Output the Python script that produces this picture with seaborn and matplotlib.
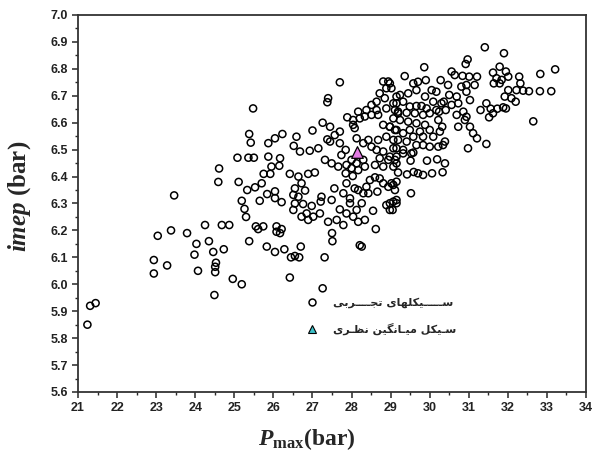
import matplotlib
matplotlib.use("Agg")
import matplotlib.pyplot as plt
import seaborn as sns
from matplotlib.lines import Line2D
from matplotlib.ticker import MultipleLocator

pmax = [21.24, 21.31, 21.45, 22.94, 22.94, 23.28, 23.04, 23.38, 23.46, 23.79,
        24.03, 23.98, 24.07, 24.25, 24.35, 24.46, 24.53, 24.51, 24.51, 24.49,
        24.73, 24.68, 24.87, 24.96, 25.19, 24.59, 24.61, 25.08, 25.36, 25.50,
        25.11, 25.33, 25.19, 25.26, 25.30, 25.38,
        25.53, 25.70, 25.65, 25.84, 26.04, 26.04, 26.21, 25.55, 25.61, 25.74,
        25.83, 26.04, 26.28, 26.45, 26.55, 26.66, 26.70, 26.08, 26.08, 26.21,
        26.17, 26.42, 27.26, 27.31, 27.50, 27.51, 28.21, 28.26, 28.62,
        25.75, 25.92, 26.15,
        26.42, 26.64, 26.89, 27.06, 26.72, 26.55, 26.51, 26.64, 26.81, 26.55,
        26.51, 26.76, 26.98, 26.85, 26.72, 26.89, 27.02, 27.19, 27.23, 27.21,
        27.49, 27.40, 27.62, 27.79, 27.56, 27.79, 27.87, 27.85, 28.03, 28.08,
        27.96, 28.17, 28.30, 28.38, 28.47, 28.60, 28.72, 28.81, 28.94, 29.07,
        29.15, 28.66, 28.89, 29.07, 28.98, 29.15, 28.55, 27.70, 27.87, 28.04,
        28.13, 28.34, 28.17, 27.96, 28.26, 28.43,
        25.48, 27.70, 27.40, 27.38, 25.38, 25.42, 25.87, 26.04, 26.23, 26.59,
        26.52, 26.68, 25.87, 26.17, 26.93, 27.15, 27.00, 27.26, 27.45, 27.70,
        27.57, 27.38, 27.45, 27.70, 27.85, 27.74, 27.32, 27.49, 27.66, 27.87,
        25.95, 27.89, 28.04, 28.08, 28.04, 28.13, 28.30, 28.43, 28.51, 28.68,
        28.17, 28.38, 28.51, 28.64, 28.68, 28.51, 28.34, 28.21, 28.72, 28.85,
        28.64, 28.81, 28.94, 28.89, 29.02, 29.15, 29.07, 28.89, 29.11, 29.19,
        28.81, 28.98, 29.11, 28.89, 29.07, 29.15, 28.64, 28.81, 28.72, 28.94,
        29.15, 28.60, 28.81, 29.07, 28.00, 28.13, 28.30, 28.00, 28.17, 28.34,
        31.41, 31.90, 29.86, 32.83, 33.21, 33.11, 32.82, 32.54, 32.65, 30.97,
        30.92, 30.56, 30.64, 30.84, 31.01, 31.21, 31.62, 31.79, 31.95, 31.71,
        31.84, 31.64, 31.79, 32.01, 32.29, 32.32, 32.22, 32.39, 32.01, 31.92,
        32.09, 32.20, 31.88, 31.73, 31.95, 31.30, 31.45, 31.56, 31.52, 31.62,
        31.03, 30.94, 31.15, 30.81, 30.69, 30.50, 30.28, 30.47, 30.94, 30.56,
        30.73, 30.86, 30.94, 30.69, 30.41, 30.24, 30.73, 31.03, 31.11, 31.21,
        31.45, 30.98, 30.34, 30.39, 30.22, 30.00, 29.83, 29.36, 28.98, 29.58,
        29.70, 29.90, 30.05, 30.17, 29.88, 29.66, 29.45, 29.24, 29.15, 29.32,
        29.49, 29.66, 29.79, 29.92, 30.09, 30.30, 30.17, 30.00, 29.83, 29.62,
        29.41, 29.19, 29.07, 29.24, 29.45, 29.66, 29.88, 30.00, 29.75, 29.49,
        29.32, 29.15, 28.98, 29.58, 29.83, 30.09, 30.26, 29.19, 29.41, 29.66,
        29.07, 29.32, 29.58, 30.32, 30.22, 30.36, 30.90,
        29.93, 30.19, 30.39, 30.33, 30.06, 29.83, 29.70, 29.59, 29.42, 29.19,
        29.51, 29.32, 29.53, 29.11, 29.15, 28.98, 29.52, 29.02, 29.11, 29.15,
        29.05, 28.98]

imep = [5.85, 5.92, 5.93, 6.09, 6.04, 6.07, 6.18, 6.20, 6.33, 6.19,
        6.15, 6.11, 6.05, 6.22, 6.16, 6.12, 6.08, 6.065, 6.045, 5.96,
        6.13, 6.22, 6.22, 6.02, 6.00, 6.38, 6.43, 6.47, 6.47, 6.47,
        6.38, 6.35, 6.31, 6.28, 6.25, 6.16,
        6.36, 6.375, 6.31, 6.335, 6.345, 6.32, 6.305, 6.215, 6.205, 6.215,
        6.14, 6.12, 6.13, 6.10, 6.105, 6.10, 6.14, 6.215, 6.195, 6.205,
        6.19, 6.025, 5.985, 6.10, 6.19, 6.16, 6.145, 6.14, 6.205,
        6.41, 6.41, 6.44,
        6.41, 6.40, 6.41, 6.415, 6.375, 6.356, 6.332, 6.325, 6.348, 6.300,
        6.276, 6.298, 6.291, 6.263, 6.251, 6.239, 6.251, 6.263, 6.325, 6.307,
        6.313, 6.232, 6.239, 6.220, 6.356, 6.338, 6.375, 6.412, 6.402, 6.356,
        6.319, 6.350, 6.338, 6.362, 6.387, 6.397, 6.393, 6.375, 6.362, 6.369,
        6.381, 6.344, 6.294, 6.307, 6.276, 6.301, 6.273, 6.278, 6.263, 6.251,
        6.276, 6.239, 6.232, 6.301, 6.301, 6.338,
        6.653, 6.750, 6.691, 6.676, 6.558, 6.526, 6.524, 6.542, 6.558, 6.548,
        6.514, 6.493, 6.474, 6.468, 6.496, 6.505, 6.571, 6.600, 6.585, 6.567,
        6.554, 6.538, 6.530, 6.524, 6.499, 6.480, 6.462, 6.449, 6.437, 6.443,
        6.437, 6.620, 6.592, 6.580, 6.610, 6.542, 6.524, 6.536, 6.511, 6.536,
        6.641, 6.647, 6.666, 6.647, 6.629, 6.629, 6.623, 6.616, 6.709, 6.691,
        6.678, 6.753, 6.753, 6.728, 6.728, 6.697, 6.672, 6.653, 6.647, 6.635,
        6.592, 6.585, 6.573, 6.548, 6.536, 6.505, 6.499, 6.493, 6.468, 6.462,
        6.474, 6.443, 6.437, 6.437, 6.462, 6.449, 6.462, 6.431, 6.424, 6.437,
        6.880, 6.858, 6.806, 6.781, 6.798, 6.717, 6.717, 6.717, 6.605, 6.835,
        6.818, 6.790, 6.777, 6.774, 6.771, 6.771, 6.786, 6.808, 6.790, 6.765,
        6.759, 6.746, 6.746, 6.771, 6.771, 6.746, 6.721, 6.719, 6.721, 6.697,
        6.691, 6.678, 6.657, 6.652, 6.653, 6.647, 6.672, 6.652, 6.620, 6.635,
        6.684, 6.715, 6.740, 6.734, 6.697, 6.703, 6.758, 6.740, 6.740, 6.666,
        6.672, 6.641, 6.622, 6.629, 6.647, 6.641, 6.585, 6.585, 6.561, 6.542,
        6.521, 6.505, 6.517, 6.530, 6.511, 6.511, 6.517, 6.773, 6.746, 6.746,
        6.752, 6.758, 6.721, 6.715, 6.697, 6.721, 6.709, 6.703, 6.672, 6.678,
        6.660, 6.662, 6.662, 6.653, 6.678, 6.672, 6.647, 6.635, 6.629, 6.635,
        6.637, 6.641, 6.616, 6.610, 6.604, 6.598, 6.592, 6.573, 6.567, 6.573,
        6.561, 6.573, 6.585, 6.548, 6.548, 6.548, 6.567, 6.536, 6.530, 6.517,
        6.505, 6.499, 6.489, 6.585, 6.610, 6.678, 6.610,
        6.459, 6.464, 6.449, 6.416, 6.412, 6.406, 6.412, 6.417, 6.408, 6.415,
        6.459, 6.486, 6.486, 6.462, 6.449, 6.474, 6.338, 6.375, 6.350, 6.313,
        6.276, 6.301]

# averaged (theoretical mean) cycle
mean_pmax = [28.15]
mean_imep = [6.49]

label_exp = "ســـــیکلهای تجــــربی"
label_mean = "سـیکل میـانگین نظـری"

# minimal Persian shaping (presentation forms) because matplotlib does not shape Arabic script
FORMS = {
    "س": ("\uFEB1", "\uFEB2", "\uFEB3", "\uFEB4"),
    "ی": ("\uFEEF", "\uFEF0", "\uFEF3", "\uFEF4"),
    "ک": ("\uFB8E", "\uFB8F", "\uFB90", "\uFB91"),
    "ل": ("\uFEDD", "\uFEDE", "\uFEDF", "\uFEE0"),
    "ه": ("\uFEE9", "\uFEEA", "\uFEEB", "\uFEEC"),
    "ا": ("\uFE8D", "\uFE8E", None, None),
    "ت": ("\uFE95", "\uFE96", "\uFE97", "\uFE98"),
    "ج": ("\uFE9D", "\uFE9E", "\uFE9F", "\uFEA0"),
    "ر": ("\uFEAD", "\uFEAE", None, None),
    "ب": ("\uFE8F", "\uFE90", "\uFE91", "\uFE92"),
    "م": ("\uFEE1", "\uFEE2", "\uFEE3", "\uFEE4"),
    "ن": ("\uFEE5", "\uFEE6", "\uFEE7", "\uFEE8"),
    "گ": ("\uFB92", "\uFB93", "\uFB94", "\uFB95"),
    "ظ": ("\uFEC5", "\uFEC6", "\uFEC7", "\uFEC8"),
    "ـ": ("\u0640", "\u0640", "\u0640", "\u0640"),
}


def shape(text):
    out = []
    for i, ch in enumerate(text):
        if ch not in FORMS:
            out.append(ch)
            continue
        prev = text[i - 1] if i > 0 else ""
        nxt = text[i + 1] if i + 1 < len(text) else ""
        join_prev = prev in FORMS and FORMS[prev][2] is not None
        join_next = FORMS[ch][2] is not None and nxt in FORMS
        if join_prev and join_next:
            out.append(FORMS[ch][3])
        elif join_prev:
            out.append(FORMS[ch][1])
        elif join_next:
            out.append(FORMS[ch][2])
        else:
            out.append(FORMS[ch][0])
    return "".join(out[::-1])


sns.set_style("ticks")
plt.rcParams["font.family"] = ["Liberation Sans", "DejaVu Sans"]
plt.rcParams["mathtext.fontset"] = "custom"
plt.rcParams["mathtext.it"] = "Liberation Serif:italic:bold"
plt.rcParams["mathtext.rm"] = "Liberation Serif:bold"
plt.rcParams["mathtext.bf"] = "Liberation Serif:bold"

fig = plt.figure(figsize=(5.97, 4.61), dpi=100)
ax = fig.add_axes([0.1307, 0.1497, 0.8509, 0.8178])

sns.scatterplot(x=pmax, y=imep, ax=ax, marker="o", s=26,
                facecolor="none", edgecolor="black", linewidth=1.1)
sns.scatterplot(x=mean_pmax, y=mean_imep, ax=ax, marker="^", s=70,
                color="#e47be4", edgecolor="black", linewidth=0.9, zorder=5)

ax.set_xlim(21, 34)
ax.set_ylim(5.6, 7.0)
ax.xaxis.set_major_locator(MultipleLocator(1))
ax.xaxis.set_minor_locator(MultipleLocator(0.5))
ax.yaxis.set_major_locator(MultipleLocator(0.1))
ax.yaxis.set_minor_locator(MultipleLocator(0.05))
ax.tick_params(which="major", direction="out", length=4, width=1.1,
               labelsize=9, labelcolor="#222222", pad=3)
ax.tick_params(which="minor", direction="out", length=2.5, width=1.0)
for lab in ax.get_xticklabels() + ax.get_yticklabels():
    lab.set_fontweight("bold")
for sp in ax.spines.values():
    sp.set_linewidth(1.3)
    sp.set_color("#333333")

ax.set_xlabel(r"$P_{\mathrm{max}}$(bar)", fontsize=17, family="Liberation Serif",
              fontweight="bold")
ax.xaxis.set_label_coords(0.45, -0.09)
ax.set_ylabel(r"$imep$ (bar)", fontsize=18, family="Liberation Serif",
              fontweight="bold")
ax.yaxis.set_label_coords(-0.088, 0.52)

handles = [
    Line2D([], [], marker="o", linestyle="none", markersize=5,
           markerfacecolor="none", markeredgecolor="black", markeredgewidth=1.1),
    Line2D([], [], marker="^", linestyle="none", markersize=5.5,
           markerfacecolor="#3cc0c8", markeredgecolor="black", markeredgewidth=0.8),
]
ax.legend(handles, [shape(label_exp), shape(label_mean)], frameon=False,
          loc="lower right", bbox_to_anchor=(0.765, 0.125), handletextpad=0.9,
          labelspacing=1.3, prop={"family": "DejaVu Sans", "weight": "bold", "size": 8})

fig.savefig("out.png", dpi=100)
